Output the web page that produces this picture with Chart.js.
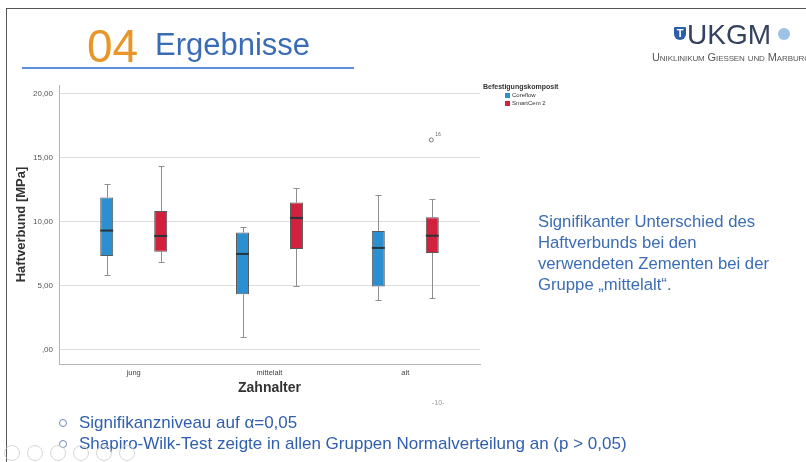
<!DOCTYPE html>
<html>
<head>
<meta charset="utf-8">
<script src="https://cdn.jsdelivr.net/npm/chart.js@4.4.1/dist/chart.umd.min.js"></script>
<style>
  html, body { margin: 0; padding: 0; background: #fff; }
  #slide { position: relative; width: 806px; height: 462px; overflow: hidden; font-family: 'Liberation Sans', Arial, sans-serif; }
  #chart { position: absolute; left: 0; top: 0; }
  .abs { position: absolute; white-space: nowrap; }
  .frame-top { position: absolute; left: 6px; top: 8px; width: 800px; height: 1px; background: #555; }
  .frame-left { position: absolute; left: 6px; top: 8px; width: 1px; height: 454px; background: #555; }
  .num { left: 87px; top: 23px; font-size: 46px; line-height: 46px; color: #e8962a; }
  .head { left: 155px; top: 29px; font-size: 31px; line-height: 31px; color: #3a6cb5; }
  .rule { position: absolute; left: 22px; top: 67px; width: 332px; height: 2px; background: #5d8fd6; }
  .logo { left: 687px; top: 21px; font-size: 28px; line-height: 28px; color: #34425e; }
  .shield { position: absolute; left: 674px; top: 27px; width: 12px; height: 13px; background: #2d5ea8; border-radius: 1px 1px 6px 6px; color: #fff; font-size: 11px; line-height: 12px; text-align: center; font-weight: bold; }
  .seal { position: absolute; left: 778px; top: 28px; width: 12px; height: 12px; border-radius: 50%; background: #9cc2e6; }
  .sub { left: 652px; top: 51px; font-size: 11px; line-height: 12px; color: #555; font-variant: small-caps; letter-spacing: -0.1px; }
  .note { left: 538px; top: 211px; font-size: 16.7px; line-height: 21px; color: #3c6db4; }
  .legend-title { left: 483px; top: 83px; font-size: 7px; font-weight: bold; color: #333; }
  .legend-item { left: 505px; font-size: 6px; line-height: 7px; color: #333; }
  .legend-item span { display: inline-block; width: 5px; height: 5px; margin-right: 2px; vertical-align: -0.5px; }
  .page { left: 432px; top: 399px; font-size: 7px; color: #999; }
  .bullets { left: 59px; top: 412px; font-size: 17px; line-height: 21px; color: #2f5fae; }
  .bullets .dot { display: inline-block; width: 6px; height: 6px; border: 1px solid #7088b5; border-radius: 50%; margin-right: 12px; vertical-align: 1px; }
  .nav { position: absolute; top: 445px; width: 14px; height: 14px; border: 1px solid #d6d6d6; border-radius: 50%; }
</style>
</head>
<body>
<div id="slide">
  <canvas id="chart" width="806" height="462"></canvas>

  <div class="frame-top"></div>
  <div class="frame-left"></div>

  <div class="abs num">04</div>
  <div class="abs head">Ergebnisse</div>
  <div class="rule"></div>

  <div class="shield">T</div>
  <div class="abs logo">UKGM</div>
  <div class="seal"></div>
  <div class="abs sub">Uniklinikum Giessen und Marburg</div>

  <div class="abs legend-title">Befestigungskomposit</div>
  <div id="legend"></div>

  <div class="abs note">Signifikanter Unterschied des<br>Haftverbunds bei den<br>verwendeten Zementen bei der<br>Gruppe „mittelalt“.</div>

  <div class="abs page">-10-</div>

  <div class="abs bullets">
    <div><span class="dot"></span>Signifikanzniveau auf α=0,05</div>
    <div><span class="dot"></span>Shapiro-Wilk-Test zeigte in allen Gruppen Normalverteilung an (p &gt; 0,05)</div>
  </div>

  <div class="nav" style="left:4px"></div>
  <div class="nav" style="left:27px"></div>
  <div class="nav" style="left:50px"></div>
  <div class="nav" style="left:73px"></div>
  <div class="nav" style="left:96px"></div>
  <div class="nav" style="left:119px"></div>
</div>

<script>
// Age groups on the x axis
const categories = ['jung', 'mittelalt', 'alt'];

// Y axis ticks (MPa) and their German-formatted labels
const yTickValues = [0, 5, 10, 15, 20];
const yTickLabels = [',00', '5,00', '10,00', '15,00', '20,00'];

// Coreflow: five-number summary per age group
const coreflowMin    = [5.80, 0.99, 3.86];
const coreflowQ1     = [7.31, 4.31, 4.91];
const coreflowMedian = [9.30, 7.47, 7.94];
const coreflowQ3     = [11.88, 9.14, 9.27];
const coreflowMax    = [12.93, 9.58, 12.09];

// SmartCem 2: five-number summary per age group
const smartCemMin    = [6.82, 4.94, 4.00];
const smartCemQ1     = [7.65, 7.85, 7.55];
const smartCemMedian = [8.88, 10.29, 8.90];
const smartCemQ3     = [10.84, 11.49, 10.34];
const smartCemMax    = [14.37, 12.66, 11.76];

// Outliers (value and case number) per age group
const coreflowOutliers     = [[], [], []];
const coreflowOutlierCases = [[], [], []];
const smartCemOutliers     = [[], [], [16.4]];
const smartCemOutlierCases = [[], [], ['16']];

const groups = [
  { label: 'Coreflow', color: '#2b8fd0', min: coreflowMin, q1: coreflowQ1, median: coreflowMedian,
    q3: coreflowQ3, max: coreflowMax, outliers: coreflowOutliers, cases: coreflowOutlierCases },
  { label: 'SmartCem 2', color: '#d3213d', min: smartCemMin, q1: smartCemQ1, median: smartCemMedian,
    q3: smartCemQ3, max: smartCemMax, outliers: smartCemOutliers, cases: smartCemOutlierCases }
];

// Whiskers, caps, medians and outlier markers drawn around the floating bars
const boxPlotParts = {
  id: 'boxPlotParts',
  beforeDatasetsDraw(chart) {
    const ctx = chart.ctx, y = chart.scales.y;
    ctx.save();
    ctx.strokeStyle = '#8e8e8e';
    ctx.lineWidth = 1;
    groups.forEach((g, di) => {
      chart.getDatasetMeta(di).data.forEach((bar, i) => {
        const x = Math.round(bar.x) + 0.5;
        const cap = 3;
        const yMin = Math.round(y.getPixelForValue(g.min[i])) + 0.5;
        const yMax = Math.round(y.getPixelForValue(g.max[i])) + 0.5;
        const yQ1 = y.getPixelForValue(g.q1[i]);
        const yQ3 = y.getPixelForValue(g.q3[i]);
        ctx.beginPath();
        ctx.moveTo(x, yMax); ctx.lineTo(x, yQ3);
        ctx.moveTo(x, yQ1); ctx.lineTo(x, yMin);
        ctx.moveTo(x - cap, yMax); ctx.lineTo(x + cap, yMax);
        ctx.moveTo(x - cap, yMin); ctx.lineTo(x + cap, yMin);
        ctx.stroke();
      });
    });
    ctx.restore();
  },
  afterDatasetsDraw(chart) {
    const ctx = chart.ctx, y = chart.scales.y;
    ctx.save();
    groups.forEach((g, di) => {
      chart.getDatasetMeta(di).data.forEach((bar, i) => {
        const half = bar.width / 2;
        const yMed = y.getPixelForValue(g.median[i]);
        ctx.strokeStyle = '#27343a';
        ctx.lineWidth = 2;
        ctx.beginPath();
        ctx.moveTo(bar.x - half, yMed);
        ctx.lineTo(bar.x + half, yMed);
        ctx.stroke();

        g.outliers[i].forEach((v, k) => {
          const yo = y.getPixelForValue(v);
          ctx.strokeStyle = '#7a7a7a';
          ctx.lineWidth = 1;
          ctx.beginPath();
          ctx.arc(bar.x - 1, yo, 2, 0, Math.PI * 2);
          ctx.stroke();
          ctx.fillStyle = '#666';
          ctx.font = '5px "Liberation Sans", Arial, sans-serif';
          ctx.textBaseline = 'middle';
          ctx.fillText(g.cases[i][k], bar.x + 3, yo - 5);
        });
      });
    });
    ctx.restore();
  }
};

const chart = new Chart(document.getElementById('chart'), {
  type: 'bar',
  data: {
    datasets: groups.map(g => ({
      label: g.label,
      data: categories.map((c, i) => ({ x: i, y: [g.q1[i], g.q3[i]] })),
      backgroundColor: g.color,
      borderColor: 'rgba(60,60,60,0.85)',
      borderWidth: 1,
      borderSkipped: false,
      categoryPercentage: 0.795,
      barPercentage: 0.24
    }))
  },
  options: {
    responsive: false,
    animation: false,
    events: [],
    layout: { padding: { left: 0, top: 85, right: 326, bottom: 62 } },
    plugins: { legend: { display: false }, tooltip: { enabled: false } },
    scales: {
      x: {
        type: 'linear',
        min: -0.55,
        max: 2.55,
        offset: false,
        grid: { display: false, offset: false, drawTicks: false, tickLength: 0 },
        border: { display: true, color: '#b5b5b5', width: 1 },
        afterBuildTicks: s => { s.ticks = categories.map((c, i) => ({ value: i })); },
        afterFit: s => { s.height = 36; },
        ticks: {
          padding: 4,
          color: '#444',
          font: { size: 7.5 },
          maxRotation: 0,
          callback: (v, i) => categories[i]
        },
        title: {
          display: true,
          text: 'Zahnalter',
          color: '#333',
          font: { size: 14, weight: 'bold' },
          padding: { top: 0, bottom: 3 }
        }
      },
      y: {
        min: -1.15,
        max: 20.7,
        grid: { color: '#dedede', lineWidth: 1, drawTicks: false, tickLength: 0 },
        border: { display: true, color: '#b5b5b5', width: 1 },
        afterBuildTicks: s => { s.ticks = yTickValues.map(v => ({ value: v })); },
        afterFit: s => { s.width = 59; },
        ticks: {
          padding: 6,
          color: '#555',
          font: { size: 8 },
          callback: v => yTickLabels[yTickValues.indexOf(v)]
        },
        title: {
          display: true,
          text: 'Haftverbund [MPa]',
          color: '#333',
          font: { size: 13, weight: 'bold' },
          padding: { top: 14, bottom: 0 }
        }
      }
    }
  },
  plugins: [boxPlotParts]
});

// Legend entries built from the chart's own datasets
const legendEl = document.getElementById('legend');
chart.data.datasets.forEach((ds, i) => {
  const item = document.createElement('div');
  item.className = 'abs legend-item';
  item.style.top = (92 + i * 8) + 'px';
  item.innerHTML = '<span style="background:' + ds.backgroundColor + '"></span>' + ds.label;
  legendEl.appendChild(item);
});
</script>
</body>
</html>
